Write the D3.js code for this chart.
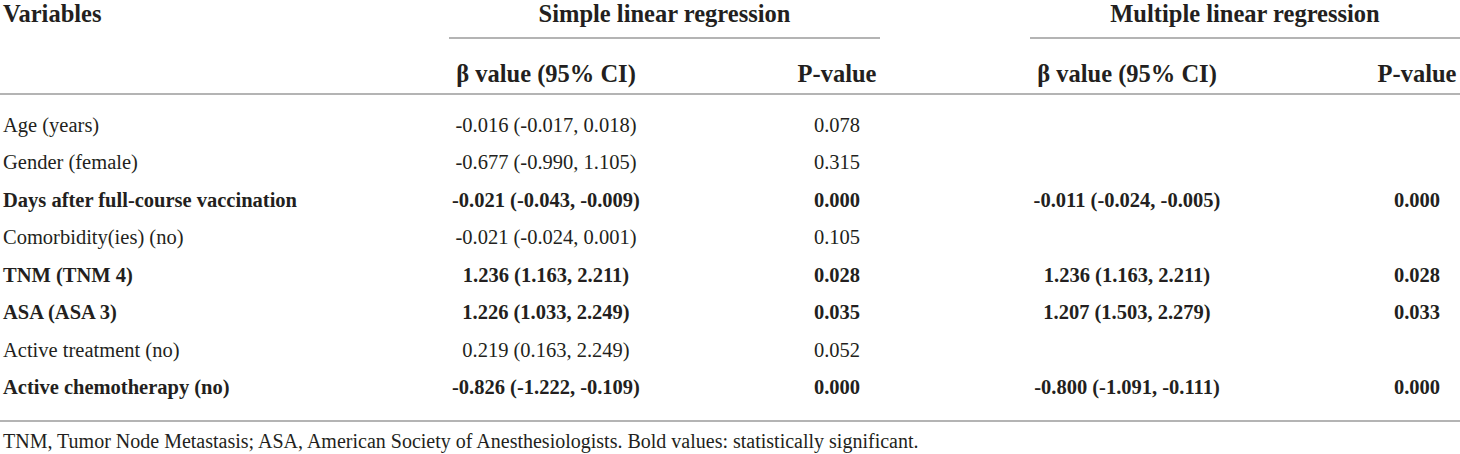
<!DOCTYPE html>
<html>
<head>
    <meta charset="utf-8">
    <script src="https://d3js.org/d3.v7.min.js"></script>
    <style>
        body { margin: 0; background: #fff; }
        svg { display: block; }
        text { font-family: "Liberation Serif", "Times New Roman", serif; fill: #231f20; }
        .head { font-weight: bold; font-size: 24.5px; }
        .cell { font-size: 20.5px; }
        .sig { font-weight: bold; }
        .note { font-size: 20px; }
        .rule { stroke: #b4b4b4; stroke-width: 1.3px; shape-rendering: crispEdges; }
    </style>
</head>
<body>
    <svg width="1460" height="454"></svg>
    <script>
        // table content
        var variables = [
            "Age (years)",
            "Gender (female)",
            "Days after full-course vaccination",
            "Comorbidity(ies) (no)",
            "TNM (TNM 4)",
            "ASA (ASA 3)",
            "Active treatment (no)",
            "Active chemotherapy (no)"
        ];
        var significant = [false, false, true, false, true, true, false, true];

        var simpleBeta = [
            "-0.016 (-0.017, 0.018)",
            "-0.677 (-0.990, 1.105)",
            "-0.021 (-0.043, -0.009)",
            "-0.021 (-0.024, 0.001)",
            "1.236 (1.163, 2.211)",
            "1.226 (1.033, 2.249)",
            "0.219 (0.163, 2.249)",
            "-0.826 (-1.222, -0.109)"
        ];
        var simpleP = ["0.078", "0.315", "0.000", "0.105", "0.028", "0.035", "0.052", "0.000"];

        var multiBeta = ["", "", "-0.011 (-0.024, -0.005)", "", "1.236 (1.163, 2.211)", "1.207 (1.503, 2.279)", "", "-0.800 (-1.091, -0.111)"];
        var multiP = ["", "", "0.000", "", "0.028", "0.033", "", "0.000"];

        var groupHeaders = ["Simple linear regression", "Multiple linear regression"];
        var subHeaders = ["\u03b2 value (95% CI)", "P-value", "\u03b2 value (95% CI)", "P-value"];
        var firstHeader = "Variables";
        var footnote = "TNM, Tumor Node Metastasis; ASA, American Society of Anesthesiologists. Bold values: statistically significant.";

        var svg = d3.select("svg"),
            width = +svg.attr("width");

        // layout
        var groups = [[449, 880], [1030, 1460]];       // extent of each group rule
        var colCenters = [546, 837, 1127, 1417];        // centre of each value column
        var labelX = 3;

        var y = d3.scaleLinear()
            .domain([0, variables.length - 1])
            .range([132, 394]);

        // header row
        svg.append("text")
            .attr("class", "head")
            .attr("x", labelX)
            .attr("y", 22)
            .text(firstHeader);

        svg.selectAll(".group")
            .data(groupHeaders)
            .enter().append("text")
            .attr("class", "head group")
            .attr("text-anchor", "middle")
            .attr("x", function(d, i) { return (groups[i][0] + groups[i][1]) / 2; })
            .attr("y", 22)
            .text(function(d) { return d; });

        svg.selectAll(".group-rule")
            .data(groups)
            .enter().append("line")
            .attr("class", "rule group-rule")
            .attr("x1", function(d) { return d[0]; })
            .attr("x2", function(d) { return d[1]; })
            .attr("y1", 38).attr("y2", 38);

        svg.selectAll(".sub")
            .data(subHeaders)
            .enter().append("text")
            .attr("class", "head sub")
            .attr("text-anchor", "middle")
            .attr("x", function(d, i) { return colCenters[i]; })
            .attr("y", 82)
            .text(function(d) { return d; });

        // full width rules
        [94, 421].forEach(function(ry) {
            svg.append("line")
                .attr("class", "rule")
                .attr("x1", 0).attr("x2", width)
                .attr("y1", ry).attr("y2", ry);
        });

        // body rows
        var rows = svg.selectAll(".row")
            .data(variables)
            .enter().append("g")
            .attr("class", function(d, i) { return significant[i] ? "row sig" : "row"; })
            .attr("transform", function(d, i) { return "translate(0," + y(i) + ")"; });

        rows.append("text")
            .attr("class", "cell")
            .attr("x", labelX)
            .text(function(d) { return d; });

        var columns = [simpleBeta, simpleP, multiBeta, multiP];
        columns.forEach(function(col, c) {
            rows.append("text")
                .attr("class", "cell")
                .attr("text-anchor", "middle")
                .attr("x", colCenters[c])
                .text(function(d, i) { return col[i]; });
        });

        // footnote
        svg.append("text")
            .attr("class", "note")
            .attr("x", labelX)
            .attr("y", 448)
            .text(footnote);
    </script>
</body>
</html>
